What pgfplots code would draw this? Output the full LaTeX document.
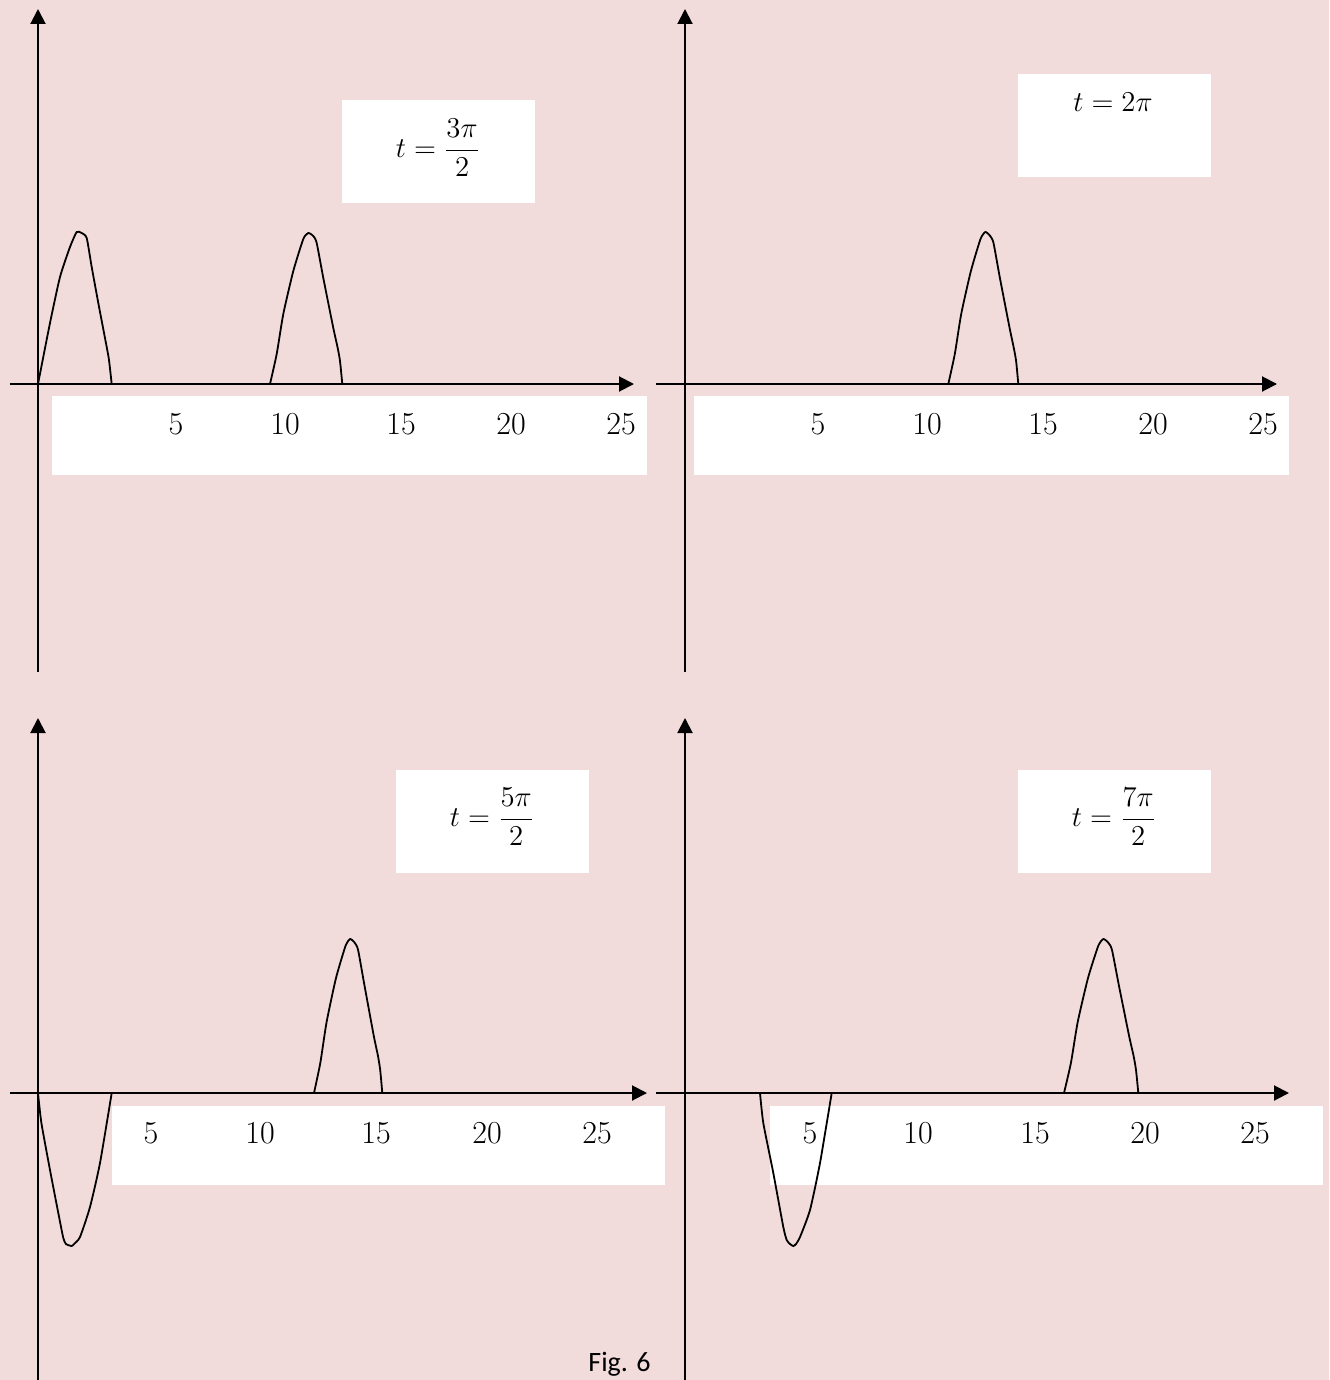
\documentclass[border=0pt]{standalone}
\usepackage{fontspec}
\usepackage{pgfplots}
\pgfplotsset{compat=1.18}
\usetikzlibrary{arrows.meta}
\newfontfamily\captionfont{Carlito}
\definecolor{bgpink}{HTML}{F2DCDB}

% one panel of the travelling pulse: axes through the origin, arrows on the positive ends
\pgfplotsset{
  wavepanel/.style={
    x=0.5pt, y=0.5pt,
    axis lines=middle,
    axis line style={line width=1pt, -{Triangle[length=7.5pt,width=7.5pt]}},
    ytick=\empty,
    major tick length=0pt,
    xticklabel style={anchor=center, yshift=-20pt, font=\fontsize{16}{18}\selectfont},
    clip=false,
    anchor=origin,
  },
  pulse/.style={black, line width=0.9pt, smooth, tension=0.35, mark=none},
}

\begin{document}
\begin{tikzpicture}
\path[use as bounding box] (0pt,0pt) rectangle (664.5pt,-690pt);
\clip (0pt,0pt) rectangle (664.5pt,-690pt);
\begin{scope}[x=0.5pt, y=-0.5pt]
  \fill[bgpink] (0,0) rectangle (1329,1380);
  % white panels behind the tick numbers
  \fill[white] (52,396) rectangle (647,475);
  \fill[white] (694,396) rectangle (1289,475);
  \fill[white] (112,1106) rectangle (665,1185);
  \fill[white] (770,1106) rectangle (1323,1185);
  % white panels for the time stamps
  \fill[white] (342,100) rectangle (535,203);
  \fill[white] (1018,74) rectangle (1211,177);
  \fill[white] (396,770) rectangle (589,873);
  \fill[white] (1018,770) rectangle (1211,873);
  \node at (438,148) {\fontsize{15}{18}\selectfont $\displaystyle t=\frac{3\pi}{2}$};
  \node[anchor=base] at (1113,112) {\fontsize{15}{18}\selectfont $t=2\pi$};
  \node at (492,817) {\fontsize{15}{18}\selectfont $\displaystyle t=\frac{5\pi}{2}$};
  \node at (1114,817) {\fontsize{15}{18}\selectfont $\displaystyle t=\frac{7\pi}{2}$};
  \node[anchor=base west, inner sep=0pt] at (588,1371) {\captionfont\fontsize{14}{16}\selectfont Fig. 6};
\end{scope}

% t = 3pi/2
\begin{axis}[wavepanel, at={(19pt,-192pt)},
  xmin=-28, xmax=596, ymin=-288, ymax=375,
  xtick={138,247,363,473,583}, xticklabels={5,10,15,20,25}]
  \addplot[pulse] coordinates {(0,0)(12,61)(22,107)(32,137)(38.7,152)(43.7,151)(48.7,146)(53.7,117)(60.3,81)(68.7,37)(71,24)(73.7,0)};
  \addplot[pulse] coordinates {(232,0)(238.7,30)(245.3,70)(255.3,113)(265.3,145)(270.3,151)(275.3,148)(278.7,141)(285.3,106)(295.3,56)(299.7,36)(302,23)(304.3,0)};
\end{axis}

% t = 2pi
\begin{axis}[wavepanel, at={(342.5pt,-192pt)},
  xmin=-29, xmax=592, ymin=-288, ymax=375,
  xtick={133,242,358,468,578}, xticklabels={5,10,15,20,25}]
  \addplot[pulse] coordinates {(263.3,0)(269.8,30)(276.2,70)(285.9,113)(295.5,145)(300.4,152)(305.2,148)(308.5,141)(314.9,106)(324.6,56)(328.8,36)(331.1,23)(333.3,0)};
\end{axis}

% t = 5pi/2
\begin{axis}[wavepanel, at={(19pt,-546.5pt)},
  xmin=-28, xmax=609, ymin=-287, ymax=375,
  xtick={113,222,338,449,559}, xticklabels={5,10,15,20,25}]
  \addplot[pulse] coordinates {(0,0)(3.4,-30)(12,-77)(20.3,-120)(25.3,-145)(28,-151)(33.7,-153)(36,-151)(42,-144)(52,-114)(62,-70)(73.7,0)};
  \addplot[pulse] coordinates {(276,0)(282.3,30)(288.6,71)(298,115)(307.5,147)(312.2,154)(316.9,150)(320.1,143)(326.4,108)(335.8,57)(340,37)(342.2,23)(344.3,0)};
\end{axis}

% t = 7pi/2
\begin{axis}[wavepanel, at={(342.5pt,-546.5pt)},
  xmin=-29, xmax=604, ymin=-287, ymax=375,
  xtick={125,233,350,460,570}, xticklabels={5,10,15,20,25}]
  \addplot[pulse] coordinates {(75,0)(78.3,-30)(88.3,-80)(98.3,-134)(101.7,-147)(105,-151)(108.3,-153)(111,-151)(115,-144)(125,-117)(135,-70)(146.7,0)};
  \addplot[pulse] coordinates {(379,0)(385.9,30)(392.7,71)(403,115)(413.2,147)(418.4,154)(423.5,150)(427,143)(433.8,108)(444.1,57)(448.6,37)(451,23)(453.3,0)};
\end{axis}
\end{tikzpicture}
\end{document}
